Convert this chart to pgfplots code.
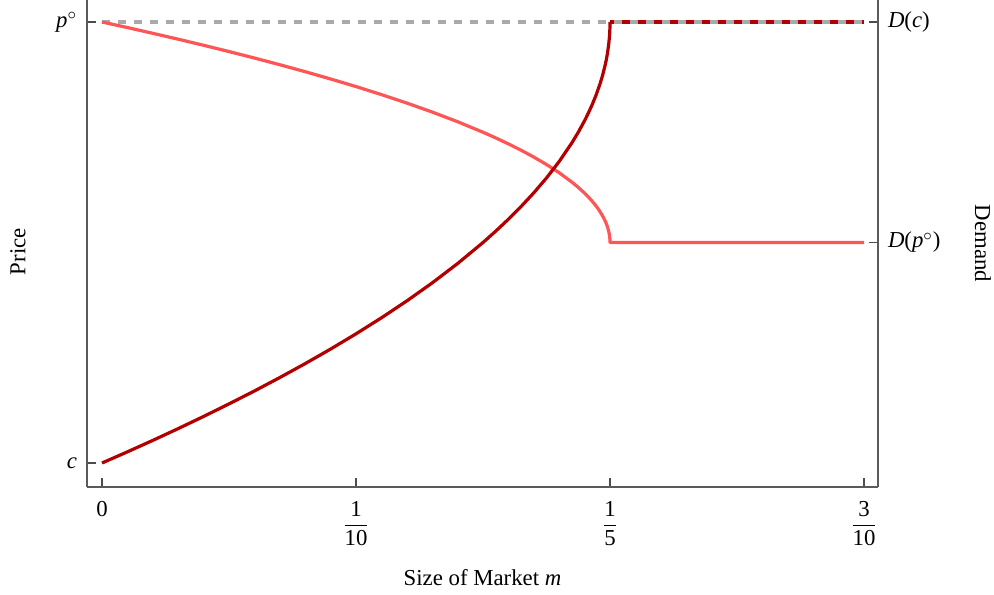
\documentclass[border=0pt]{standalone}
\usepackage{fontspec}
\setmainfont{Liberation Serif}
\usepackage{amsmath}
\usepackage{pgfplots}
\pgfplotsset{compat=1.18}
\definecolor{dred}{RGB}{178,0,0}
\definecolor{lred}{RGB}{255,85,85}
\definecolor{dgray}{RGB}{170,170,170}
\definecolor{spine}{RGB}{90,90,90}
\pgfplotstableread{
m p
0 0
0.01 0.0253
0.02 0.0513
0.03 0.0780
0.04 0.1056
0.05 0.1340
0.06 0.1633
0.07 0.1938
0.08 0.2254
0.09 0.2584
0.10 0.2929
0.11 0.3292
0.12 0.3675
0.13 0.4084
0.14 0.4523
0.15 0.5
0.155 0.5257
0.16 0.5528
0.165 0.5817
0.17 0.6127
0.175 0.6464
0.18 0.6838
0.185 0.7261
0.1875 0.75
0.19 0.7764
0.1915 0.7938
0.193 0.8129
0.1945 0.8342
0.196 0.8586
0.197 0.8775
0.198 0.9
0.1985 0.9134
0.199 0.9293
0.1995 0.95
0.1998 0.9684
0.19995 0.9842
0.2 1
}\darkcurve
\pgfplotstableread{
m p
0 1
0.01 0.9874
0.02 0.9743
0.03 0.9610
0.04 0.9472
0.05 0.9330
0.06 0.9183
0.07 0.9031
0.08 0.8873
0.09 0.8708
0.10 0.8536
0.11 0.8354
0.12 0.8162
0.13 0.7958
0.14 0.7739
0.15 0.75
0.155 0.7372
0.16 0.7236
0.165 0.7092
0.17 0.6937
0.175 0.6768
0.18 0.6581
0.185 0.6369
0.1875 0.625
0.19 0.6118
0.1915 0.6031
0.193 0.5935
0.1945 0.5829
0.196 0.5707
0.197 0.5612
0.198 0.55
0.1985 0.5433
0.199 0.5354
0.1995 0.525
0.1998 0.5158
0.19995 0.5079
0.2 0.5
0.3 0.5
}\lightcurve
\begin{document}
\fontsize{11.4}{13.7}\selectfont
\begin{tikzpicture}
\useasboundingbox (-43.5pt,-53.5pt) rectangle (453.5pt,243.5pt);
\begin{axis}[
  at={(0,0)}, anchor=south west, scale only axis,
  width=395.5pt, height=243.5pt,
  xmin=-0.0059, xmax=0.3055, ymin=-0.0544, ymax=1.0499,
  axis x line*=bottom, axis y line*=left,
  axis line style={spine, line width=0.6pt},
  tick style={spine, line width=0.6pt, black!70},
  xtick={0,0.1,0.2,0.3},
  xticklabels={0, $\dfrac{\text{1}}{\text{10}}$, $\dfrac{\text{1}}{\text{5}}$, $\dfrac{\text{3}}{\text{10}}$},
  xticklabel style={yshift=-3pt},
  ytick={0,1},
  yticklabels={\textit{c}, \textit{p}$^{\circ}$},
  yticklabel style={xshift=-1pt},
  xlabel={Size of Market \textit{m}},
  xlabel style={at={(axis description cs:0.5,-0.187)}, anchor=center},
  ylabel={Price},
  ylabel style={at={(axis description cs:-0.0872,0.483)}, anchor=center, rotate=0},
  clip=false,
]
\addplot[dgray, line width=1.6pt, dash pattern=on 4pt off 4pt] coordinates {(0,1) (0.3,1)};
\addplot[dred, line width=1.6pt, dash pattern=on 4pt off 4pt, dash phase=2pt] coordinates {(0.2,1) (0.3,1)};
\addplot[lred, line width=1.6pt, line join=round] table[x=m,y=p] {\lightcurve};
\addplot[dred, line width=1.6pt, line join=round] table[x=m,y=p] {\darkcurve};
\end{axis}
\begin{axis}[
  at={(0,0)}, anchor=south west, scale only axis,
  width=395.5pt, height=243.5pt,
  xmin=-0.0059, xmax=0.3055, ymin=-0.0544, ymax=1.0499,
  axis x line=none, axis y line*=right,
  axis line style={spine, line width=0.6pt},
  tick style={spine, line width=0.6pt, black!70},
  ytick={0.5,1},
  yticklabels={\textit{D}(\textit{p}$^{\circ}$), \textit{D}(\textit{c})},
  yticklabel style={xshift=1pt},
  clip=false,
]
\node[rotate=-90, anchor=center] at (axis description cs:1.1327,0.5) {Demand};
\end{axis}
\end{tikzpicture}
\end{document}
